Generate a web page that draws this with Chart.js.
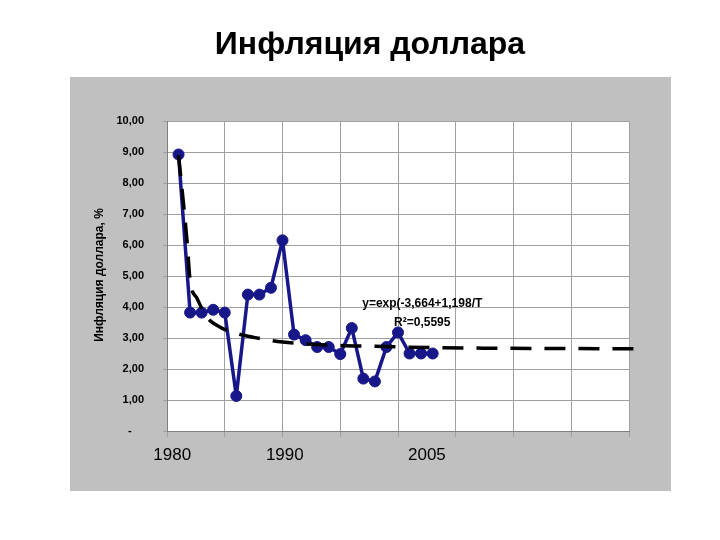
<!DOCTYPE html>
<html>
<head>
<meta charset="utf-8">
<title>Инфляция доллара</title>
<script src="https://cdn.jsdelivr.net/npm/chart.js@4.4.1/dist/chart.umd.min.js"></script>
<style>
  body { margin: 0; background: #fff; }
</style>
</head>
<body>
<canvas id="graf" width="720" height="540"></canvas>
<script>
// données (x = rang de l'année, y = inflation en %)
let periodes = [1, 2, 3, 4, 5, 6, 7, 8, 9, 10, 11, 12, 13, 14, 15, 16, 17, 18, 19, 20, 21, 22, 23]
let inflation = [8.92, 3.82, 3.82, 3.91, 3.82, 1.13, 4.40, 4.40, 4.62, 6.15, 3.11, 2.93,
  2.71, 2.71, 2.48, 3.32, 1.69, 1.60, 2.71, 3.18, 2.50, 2.50, 2.50]

// courbe de tendance (lue point par point, pas calculée)
let tendanceX = [1, 1.73, 2, 2.6, 3.46, 4.6, 5.7, 7.5, 10, 15, 18, 23, 28, 34, 40.5]
let tendanceY = [8.9, 6.15, 4.86, 4.28, 3.67, 3.35, 3.18, 3.02, 2.87, 2.76, 2.73, 2.69, 2.67, 2.66, 2.65]

// étiquettes des années sous l'axe
let anneesTexte = ["1980", "1990", "2005"]
let anneesPos = [0.45, 10.2, 22.5]

let titre = "Инфляция доллара"
let titreAxeY = "Инфляция доллара, %"
let equation = ["y=exp(-3,664+1,198/T", "R²=0,5595"]

const bleu = "#17178a"

function toPoints(xs, ys) {
  return xs.map((x, i) => ({ x: x, y: ys[i] }))
}

// fond gris, titres et textes posés à la main
const decor = {
  id: "decor",
  beforeDraw(chart) {
    const c = chart.ctx
    const a = chart.chartArea
    c.save()
    c.fillStyle = "#ffffff"
    c.fillRect(0, 0, chart.width, chart.height)
    c.fillStyle = "#c0c0c0"
    c.fillRect(70, 77, 601, 414)
    c.fillStyle = "#ffffff"
    c.fillRect(a.left, a.top, a.right - a.left, a.bottom - a.top)
    c.restore()
  },
  afterDraw(chart) {
    const c = chart.ctx
    const sx = chart.scales.x
    const sy = chart.scales.y
    c.save()
    c.fillStyle = "#000"
    c.textAlign = "center"
    c.textBaseline = "middle"
    c.font = "bold 32px 'Liberation Sans', Arial, sans-serif"
    c.fillText(titre, 370, 45)

    // titre de l'axe y
    c.save()
    c.translate(100, 275)
    c.rotate(-Math.PI / 2)
    c.font = "bold 12px 'Liberation Sans', Arial, sans-serif"
    c.fillText(titreAxeY, 0, 0)
    c.restore()

    // années
    c.font = "17px 'Liberation Sans', Arial, sans-serif"
    anneesTexte.forEach((t, i) => {
      c.fillText(t, sx.getPixelForValue(anneesPos[i]), 455)
    })

    // équation de la tendance
    c.font = "bold 12px 'Liberation Sans', Arial, sans-serif"
    c.fillText(equation[0], sx.getPixelForValue(22.1), sy.getPixelForValue(4.12))
    c.fillText(equation[1], sx.getPixelForValue(22.1), sy.getPixelForValue(3.5))
    c.restore()
  }
}

new Chart(document.getElementById("graf"), {
  type: "scatter",
  data: {
    datasets: [
      {
        label: "tendance",
        data: toPoints(tendanceX, tendanceY),
        showLine: true,
        borderColor: "#000",
        borderWidth: 3.5,
        borderDash: [21, 13],
        pointRadius: 0,
        cubicInterpolationMode: "monotone",
        clip: false,
      },
      {
        label: "inflation",
        data: toPoints(periodes, inflation),
        showLine: true,
        borderColor: bleu,
        backgroundColor: bleu,
        borderWidth: 3.5,
        borderJoinStyle: "round",
        pointRadius: 5.5,
        pointBorderWidth: 1,
        pointBackgroundColor: bleu,
        pointBorderColor: bleu,
      },
    ],
  },
  options: {
    responsive: false,
    devicePixelRatio: 1,
    animation: false,
    layout: { padding: { top: 121, right: 91, bottom: 109, left: 70 } },
    plugins: {
      legend: { display: false },
      tooltip: { enabled: false },
    },
    scales: {
      x: {
        type: "linear",
        min: 0,
        max: 40,
        ticks: { display: false, stepSize: 5 },
        grid: { color: "#a0a0a0", lineWidth: 1, tickLength: 6 },
        border: { color: "#808080", width: 1 },
        afterFit(s) { s.height = 0; s.paddingLeft = 0; s.paddingRight = 0 },
      },
      y: {
        min: 0,
        max: 10,
        ticks: {
          stepSize: 1,
          padding: 19,
          color: "#000",
          font: { family: "'Liberation Sans', Arial, sans-serif", size: 11, weight: "bold" },
          callback: (v) => v === 0 ? "-    " : v.toFixed(2).replace(".", ","),
        },
        grid: { color: "#a0a0a0", lineWidth: 1, tickLength: 4 },
        border: { color: "#808080", width: 1 },
        afterFit(s) { s.width = 97; s.paddingTop = 0; s.paddingBottom = 0 },
      },
    },
  },
  plugins: [decor],
})
</script>
</body>
</html>
